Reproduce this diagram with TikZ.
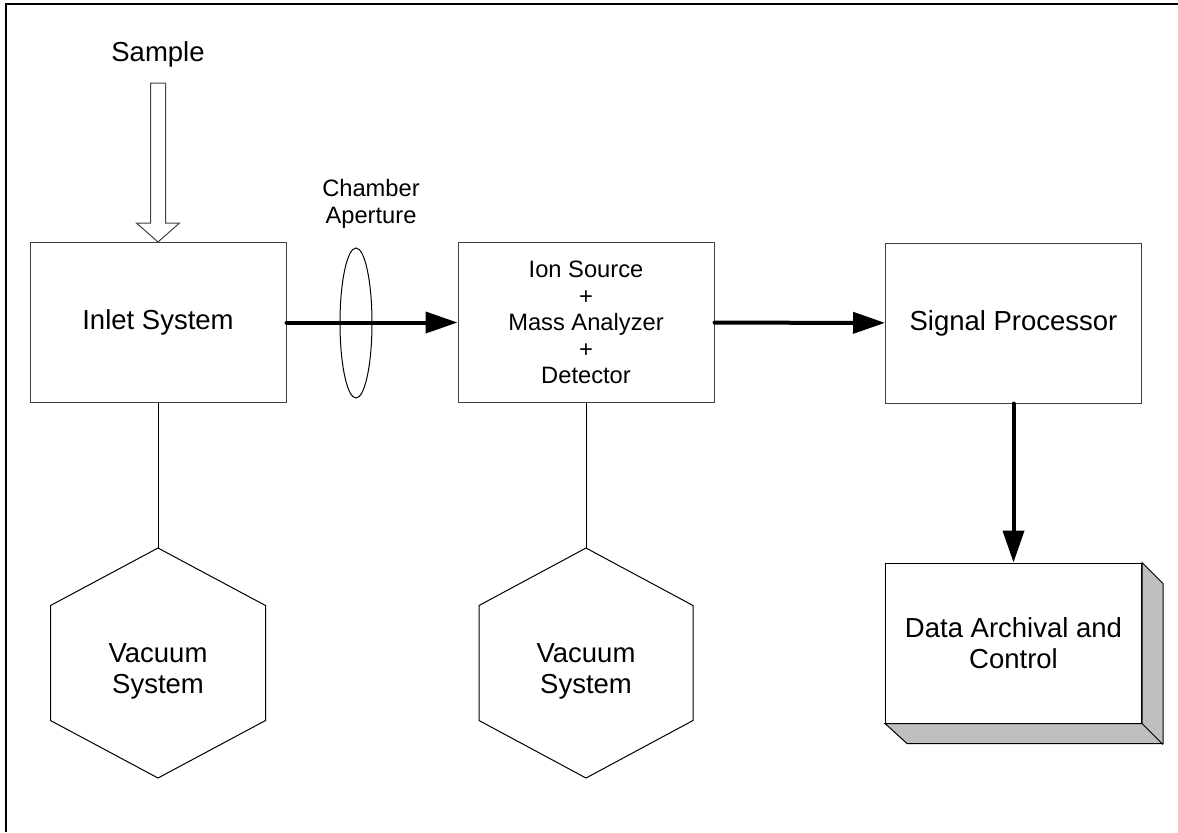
\documentclass[tikz,border=0pt]{standalone}
\usepackage{fontspec}
\setmainfont{Liberation Sans}
\usetikzlibrary{arrows.meta,shapes.geometric}

\begin{document}
\begin{tikzpicture}[x=0.5pt,y=-0.5pt,
        box/.style={draw=black!75,line width=0.5pt,minimum width=128pt,minimum height=80pt,
            inner sep=0pt,align=center,font=\fontsize{13.75}{15.5}\selectfont},
        small/.style={align=center,font=\fontsize{11.85}{13.25}\selectfont},
        flow/.style={line width=2pt,line cap=round,-{Triangle[length=16pt,width=10.5pt]}}]

        \useasboundingbox (0,0) rectangle (1178,832);
        \draw[line width=1pt] (1178,4) -- (6,4) -- (6,832);

        \node[box] (inlet) at (158,322.5) {Inlet System};
        \node[box,small] (ms) at (586,322.5) {Ion Source\\+\\Mass Analyzer\\+\\Detector};
        \node[box] (sig) at (1013.5,323) {Signal Processor};
        \node[box,draw=black,fill=white] (data) at (1013.5,643) {Data Archival and\\Control};
        \filldraw[fill=gray!50,line width=0.5pt] (data.north east) -- ++(21,21) -- ++(0,160)
            -- ++(-256,0) -- (data.south west) -- (data.south east) -- cycle;
        \draw[line width=0.5pt] (data.south east) -- ++(21,21);

        \node[font=\fontsize{13.75}{15.5}\selectfont] (sample) at (158,54) {Sample};
        \filldraw[fill=white,draw=black!75,line width=0.5pt] (inlet.north) -- ++(21.5,-19) -- ++(-14,0)
            -- ++(0,-140) -- ++(-15,0) -- ++(0,140) -- ++(-14,0) -- cycle;

        \node[small] (aplabel) at (371,204) {Chamber\\Aperture};
        \node[draw,ellipse,line width=0.5pt,inner sep=0pt,minimum width=16pt,minimum height=75pt] (aperture) at (356,323) {};

        \draw[flow] (inlet) -- (ms);
        \draw[flow] (ms) -- (sig);
        \draw[flow] (sig) -- (data);

        % vacuum pumps
        \node[align=center,font=\fontsize{13.75}{15.5}\selectfont] (vac1) at (158,671) {Vacuum\\System};
        \draw[line width=0.5pt] (158,663) +(0,-115) coordinate (vac1top) -- +(107.5,-57.5) -- +(107.5,57.5)
            -- +(0,115) -- +(-107.5,57.5) -- +(-107.5,-57.5) -- cycle;
        \node[align=center,font=\fontsize{13.75}{15.5}\selectfont] (vac2) at (586,671) {Vacuum\\System};
        \draw[line width=0.5pt] (586,663) +(0,-115) coordinate (vac2top) -- +(107,-57.5) -- +(107,57.5)
            -- +(0,115) -- +(-107,57.5) -- +(-107,-57.5) -- cycle;

        \draw[line width=0.5pt] (inlet.south) -- (vac1top);
        \draw[line width=0.5pt] (ms.south) -- (vac2top);
    \end{tikzpicture}
\end{document}
